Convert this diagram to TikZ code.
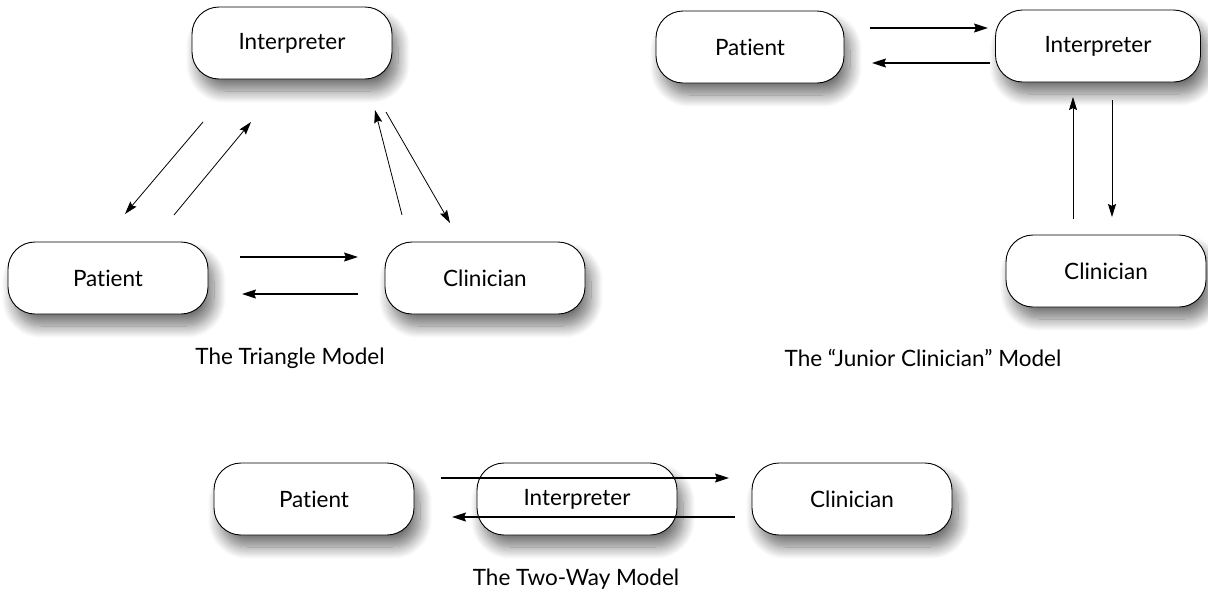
\documentclass[tikz,border=0pt]{standalone}
\usepackage{fontspec}
\setmainfont{Lato}[Ligatures={NoCommon}]
\usetikzlibrary{shadows.blur,arrows.meta}
\begin{document}
\begin{tikzpicture}[x=1pt,y=-1pt,
  box/.style={draw=black, line width=0.9pt, fill=white, rounded corners=27pt,
    minimum width=200pt, minimum height=72pt, inner sep=0pt, font=\fontsize{22.5}{26}\selectfont,
    blur shadow={shadow xshift=6pt, shadow yshift=-12pt, shadow blur radius=12pt, shadow blur steps=14, shadow opacity=55}},
  arr/.style={line width=1.2pt, -{Stealth[length=14pt,width=9pt,inset=2pt]}},
  thinarr/.style={line width=0.8pt, -{Stealth[length=13pt,width=8pt,inset=2pt]}},
  caption/.style={font=\fontsize{22.5}{26}\selectfont, inner sep=0pt}]
\useasboundingbox (0,0) rectangle (1208,595);
% Triangle model
\node[box] (tI) at (292,43) {Interpreter};
\node[box] (tP) at (108,278) {Patient};
\node[box] (tC) at (485,278) {Clinician};
\node[caption] (tL) at (290,358) {The Triangle Model};
\coordinate (t1s) at (240,257); \coordinate (t1e) at (358,257);
\coordinate (t2s) at (358,294); \coordinate (t2e) at (242,294);
\coordinate (t3s) at (203,122); \coordinate (t3e) at (125,214);
\coordinate (t4s) at (174,215); \coordinate (t4e) at (251,122);
\coordinate (t5s) at (402,215); \coordinate (t5e) at (375,110);
\coordinate (t6s) at (386,112); \coordinate (t6e) at (450,223);
\draw[arr] (t1s) -- (t1e);
\draw[arr] (t2s) -- (t2e);
\draw[thinarr] (t3s) -- (t3e);
\draw[thinarr] (t4s) -- (t4e);
\draw[thinarr] (t5s) -- (t5e);
\draw[thinarr] (t6s) -- (t6e);
% Junior clinician model
\node[box, minimum width=188pt] (jP) at (750,47) {Patient};
\node[box, minimum width=205pt] (jI) at (1098,46) {Interpreter};
\node[box] (jC) at (1106,271) {Clinician};
\node[caption] (jL) at (923,358) {The “Junior Clinician” Model};
\coordinate (j1s) at (870,28); \coordinate (j1e) at (988,28);
\coordinate (j2s) at (990,63); \coordinate (j2e) at (872,63);
\coordinate (j3s) at (1073,219); \coordinate (j3e) at (1073,97);
\coordinate (j4s) at (1112,100); \coordinate (j4e) at (1112,217);
\draw[arr] (j1s) -- (j1e);
\draw[arr] (j2s) -- (j2e);
\draw[thinarr] (j3s) -- (j3e);
\draw[thinarr] (j4s) -- (j4e);
% Two-way model
\node[box] (wP) at (314,499) {Patient};
\node[box] (wI) at (577,499) {Interpreter};
\node[box] (wC) at (852,499) {Clinician};
\node[caption] (wL) at (576,579) {The Two-Way Model};
\coordinate (w1s) at (441,478); \coordinate (w1e) at (729,478);
\coordinate (w2s) at (735,517); \coordinate (w2e) at (452,517);
\draw[arr] (w1s) -- (w1e);
\draw[arr] (w2s) -- (w2e);
\end{tikzpicture}
\end{document}
